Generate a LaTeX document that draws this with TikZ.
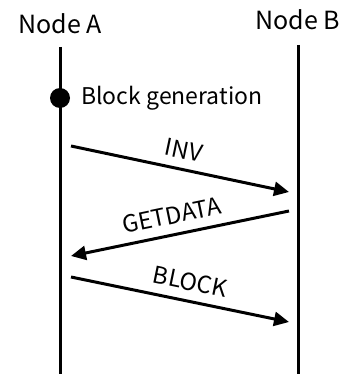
\documentclass[tikz,border=0pt]{standalone}
\usepackage{fontspec}
\setmainfont{Noto Sans CJK JP}
\usetikzlibrary{arrows.meta}
\tikzset{
  life/.style={line width=3pt},
  msg/.style={line width=3pt, -{Triangle[length=15pt,width=14pt]}},
  head/.style={font=\fontsize{25}{28}\selectfont, inner sep=0pt},
  gentext/.style={font=\fontsize{23}{26}\selectfont, inner sep=0pt},
  lbl/.style={font=\fontsize{23.5}{26}\selectfont, inner sep=0pt, sloped, midway, above=9pt},
}
\begin{document}
\begin{tikzpicture}[x=1pt,y=-1pt]
\useasboundingbox (0,0) rectangle (344,374);
\node[head] (A) at (60,24) {Node A};
\node[head] (B) at (298,20) {Node B};
\coordinate (Atop) at (60,47);
\coordinate (Abot) at (60,374);
\coordinate (Btop) at (298,45);
\coordinate (Bbot) at (298,374);
\draw[life] (Atop) -- (Abot);
\draw[life] (Btop) -- (Bbot);
\fill (60,98) circle (10) coordinate (gen);
\node[gentext, anchor=west] (gtext) at (81,98) {Block generation};
\coordinate (i1) at (71,146);
\coordinate (i2) at (289,192);
\coordinate (g1) at (289,211);
\coordinate (g2) at (71,256);
\coordinate (b1) at (71,277);
\coordinate (b2) at (289,322);
\draw[msg] (i1) -- node[lbl] (inv) {INV} (i2);
\draw[msg] (g1) -- node[lbl, pos=0.52] (gd) {GETDATA} (g2);
\draw[msg] (b1) -- node[lbl, pos=0.53] (blk) {BLOCK} (b2);
\end{tikzpicture}
\end{document}
